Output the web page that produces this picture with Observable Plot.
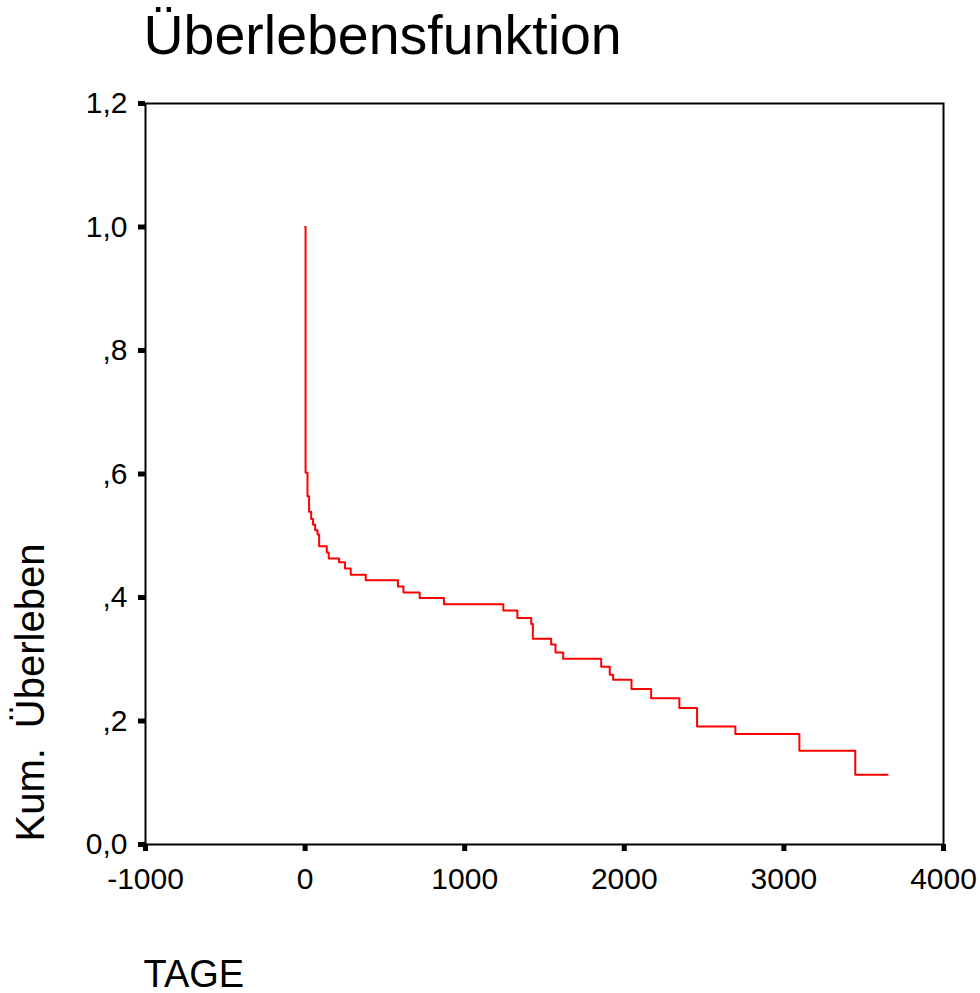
<!DOCTYPE html>
<html>
<head>
<meta charset="utf-8">
<script src="https://cdn.jsdelivr.net/npm/d3@7"></script>
<script src="https://cdn.jsdelivr.net/npm/@observablehq/plot@0.6"></script>
<style>
  html, body { margin: 0; padding: 0; background: #fff; }
</style>
</head>
<body>
<div id="chart"></div>
<script>
const title = "Überlebensfunktion";
const xLabel = "TAGE";
const yLabel = "Kum.\u2002Überleben";

// Kaplan-Meier step curve (days, cumulative survival)
const days = [0, 3, 15, 25, 38, 50, 63, 78, 88, 136, 148, 213, 250, 286, 380, 582, 616, 718, 870, 1242, 1330, 1417, 1427, 1542, 1569, 1617, 1855, 1909, 1930, 2045, 2168, 2345, 2456, 2696, 3097, 3447, 3650];
const survival = [1.0, 0.602, 0.564, 0.539, 0.527, 0.518, 0.509, 0.502, 0.483, 0.473, 0.463, 0.457, 0.447, 0.437, 0.428, 0.418, 0.408, 0.399, 0.389, 0.379, 0.367, 0.357, 0.333, 0.324, 0.311, 0.301, 0.288, 0.275, 0.267, 0.252, 0.237, 0.221, 0.191, 0.179, 0.152, 0.113, 0.113];

const xTicks = [-1000, 0, 1000, 2000, 3000, 4000];
const xTickLabels = ["-1000", "0", "1000", "2000", "3000", "4000"];
const yTicks = [0, 0.2, 0.4, 0.6, 0.8, 1.0, 1.2];
const yTickLabels = ["0,0", ",2", ",4", ",6", ",8", "1,0", "1,2"];

const data = days.map((d, i) => ({day: d, s: survival[i]}));

const chart = Plot.plot({
  width: 980,
  height: 993,
  marginLeft: 145,
  marginRight: 37,
  marginTop: 103,
  marginBottom: 149,
  style: {fontFamily: "'Liberation Sans', Arial, sans-serif", background: "#fff", color: "#000"},
  x: {domain: [-1000, 4000]},
  y: {domain: [0, 1.2]},
  marks: [
    Plot.frame({stroke: "#000", strokeWidth: 2}),
    Plot.axisX(xTicks, {
      tickSize: 7, tickPadding: 16, strokeWidth: 5, fontSize: 30,
      tickFormat: d => xTickLabels[xTicks.indexOf(d)], label: null
    }),
    Plot.axisY(yTicks, {
      tickSize: 7, tickPadding: 11, strokeWidth: 5, fontSize: 30,
      tickFormat: d => yTickLabels[yTicks.indexOf(d)], label: null
    }),
    Plot.line(data, {x: "day", y: "s", curve: "step-after", stroke: "#ff0000", strokeWidth: 2}),
    Plot.text([title], {
      text: d => d, frameAnchor: "top-left", textAnchor: "start", lineAnchor: "bottom",
      dx: -2, dy: -50, fontSize: 55.5, fill: "#000"
    }),
    Plot.text([xLabel], {
      text: d => d, frameAnchor: "bottom-left", textAnchor: "start", lineAnchor: "bottom",
      dx: -2, dy: 142, fontSize: 38, fill: "#000"
    }),
    Plot.text([yLabel], {
      text: d => d, frameAnchor: "bottom-left", textAnchor: "start", lineAnchor: "bottom",
      rotate: -90, dx: -102, dy: -3, fontSize: 40, fill: "#000"
    })
  ]
});
document.getElementById("chart").appendChild(chart);
</script>
</body>
</html>
